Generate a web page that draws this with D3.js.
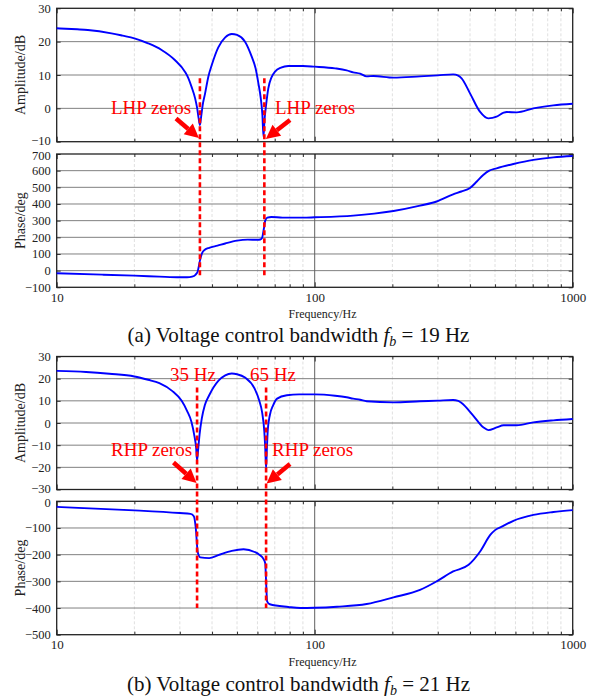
<!DOCTYPE html>
<html>
<head>
<meta charset="utf-8">
<script src="https://cdn.jsdelivr.net/npm/d3@7"></script>
<style>
  html, body { margin: 0; padding: 0; background: #fff; }
  svg { display: block; }
  svg text { font-family: "Liberation Serif", "Times New Roman", "DejaVu Serif", serif; }
</style>
</head>
<body>
<svg id="chart" width="597" height="700" font-family="Liberation Serif, serif"></svg>
<script>
// ---------------- DATA ----------------
const xMajorTicks = [10, 100, 1000];
const xMinorTicks = [20, 30, 40, 50, 60, 70, 80, 90, 200, 300, 400, 500, 600, 700, 800, 900];

const ampTicksA = [-10, 0, 10, 20, 30];
const phaseTicksA = [-100, 0, 100, 200, 300, 400, 500, 600, 700];
const ampTicksB = [-30, -20, -10, 0, 10, 20, 30];
const phaseTicksB = [-500, -400, -300, -200, -100, 0];

// (a) fb = 19 Hz : [frequency Hz, amplitude dB]
const ampA = [
  [10, 24], [12, 23.7], [13.2, 23.5], [16.3, 22.5], [18, 21.8], [20, 21], [22.6, 19.5],
  [25.5, 17.5], [28.7, 14.5], [31.4, 11], [32.4, 9], [33.3, 6.5], [34.4, 3], [35, 0.2],
  [35.5, -3], [35.9, -5], [36.3, -2.5], [36.8, 1], [37.6, 4.5], [38.7, 9.5], [39.9, 13],
  [42.3, 18.3], [45, 21.3], [47.7, 22.3], [50, 22], [53.7, 20], [57, 15.5], [59, 12],
  [60.5, 7.5], [61.8, 3], [62.7, -2], [63.3, -8.5], [63.9, -3.5], [64.8, 1], [66.1, 6],
  [68, 9.3], [70.2, 11], [74, 12.2], [79, 12.7], [90, 12.7], [100, 12.5], [120, 12],
  [133, 11.4], [141, 10.8], [150, 10.4], [159, 9.6], [169, 9.7], [202, 9.2], [256, 9.6],
  [300, 9.9], [344, 10.2], [360, 9.8], [371, 9], [400, 4.5], [437, -1], [471, -3],
  [507, -2.5], [540, -1.3], [555, -1.1], [607, -1.2], [704, 0], [841, 0.9], [1000, 1.4]
];
// (a) [frequency Hz, phase deg]
const phaseA = [
  [10, -16], [15, -24], [20, -30], [25, -36], [30, -40], [32, -40], [33.5, -36],
  [34.5, -25], [35.2, -5], [35.9, 60], [36.6, 105], [37.5, 125], [39, 137], [42, 150],
  [45, 163], [50, 180], [55, 186], [60, 185], [61.5, 187], [62.5, 196], [63.5, 250],
  [64.3, 300], [65.5, 318], [68, 322], [75, 318], [90, 318], [100, 320], [141, 330],
  [170, 342], [202, 358], [256, 390], [297, 415], [344, 458], [370, 475], [400, 496],
  [425, 535], [450, 574], [475, 600], [507, 614], [589, 640], [704, 665], [841, 680],
  [1000, 688]
];

// (b) fb = 21 Hz : [frequency Hz, amplitude dB]
const ampB = [
  [10, 23.5], [13, 23], [16, 22.2], [20, 21], [22.6, 19.5], [25, 18], [28, 14.5],
  [30.5, 10], [32, 5.5], [33.3, 0.5], [34.2, -6], [34.7, -11], [35, -17], [35.4, -11],
  [35.8, -5], [36.5, 2], [37.5, 8], [39, 12.5], [42.3, 19], [45, 21.5], [47.7, 22.3],
  [50, 22], [53.7, 20.5], [58.5, 15.5], [61, 10], [62.5, 5], [63.8, -4], [64.3, -11],
  [64.8, -20.5], [65.3, -11], [65.8, -3], [67, 3.5], [69, 8], [71.5, 11], [78, 12.5],
  [87, 12.9], [100, 12.9], [120, 12.3], [133, 11.6], [141, 11], [150, 10.5], [159, 9.8],
  [202, 9.3], [256, 9.8], [300, 10.1], [344, 10.4], [360, 10], [371, 9], [410, 3.6],
  [450, -1.9], [471, -3.2], [507, -2], [540, -1], [607, -1], [704, 0.3], [841, 1.2],
  [1000, 1.8]
];
// (b) [frequency Hz, phase deg]
const phaseB = [
  [10, -21], [20, -34], [30, -44], [33, -47], [34, -56], [34.6, -100], [35.2, -190],
  [36, -210], [39, -213], [42.3, -202], [47.7, -186], [53, -180], [58.5, -190],
  [61, -200], [63.2, -215], [64.3, -232], [64.8, -300], [65.4, -375], [67, -386],
  [79, -396], [88, -400], [100, -399], [122, -395], [159, -385], [202, -360],
  [256, -332], [297, -300], [344, -263], [395, -238], [437, -189], [480, -125],
  [500, -108], [536, -93], [589, -73], [704, -51], [841, -40], [1000, -33]
];

// zero-marker frequencies and extents [freq, top amplitude dB, bottom phase deg]
const markersA = [[35.9, 9, -40], [63.8, 9, -40]];
const markersB = [[35, 16, -400], [64.8, 16, -400]];

const annotA = ["LHP zeros", "LHP zeros"];
const annotB = ["RHP zeros", "RHP zeros"];
const freqLabelsB = ["35 Hz", "65 Hz"];
const captionA = ["(a) Voltage control bandwidth ", "f", "b", " = 19 Hz"];
const captionB = ["(b) Voltage control bandwidth ", "f", "b", " = 21 Hz"];

// ---------------- LAYOUT ----------------
const FONT = "Liberation Serif, Times New Roman, serif";
const svg = d3.select("#chart");
svg.append("rect").attr("width", 597).attr("height", 700).attr("fill", "#fff");

const X0 = 56.7, X1 = 572.7;
const x = d3.scaleLog().domain([10, 1000]).range([X0, X1]);

const yA1 = d3.scaleLinear().domain([-10, 30]).range([141.7, 8.3]);
const yA2 = d3.scaleLinear().domain([-100, 700]).range([287.3, 154]);
const yB1 = d3.scaleLinear().domain([-30, 30]).range([489.5, 356.5]);
const yB2 = d3.scaleLinear().domain([-500, 0]).range([634.7, 501.3]);

// nudgeBottom / nudgeTop: small vertical shifts of the extreme tick labels where panels abut
function panel(y, ticks, data, label, showX, xLabelY, nudgeBottom, nudgeTop) {
  const g = svg.append("g");
  const [yb, yt] = y.range();
  // minor vertical grid
  g.selectAll(".vmin").data(xMinorTicks).enter().append("line")
    .attr("x1", d => x(d)).attr("x2", d => x(d)).attr("y1", yt).attr("y2", yb)
    .attr("stroke", "#d8d8d8").attr("stroke-width", 0.8).attr("stroke-dasharray", "3,2");
  // horizontal grid
  g.selectAll(".hg").data(ticks.slice(1, -1)).enter().append("line")
    .attr("x1", X0).attr("x2", X1).attr("y1", d => y(d)).attr("y2", d => y(d))
    .attr("stroke", "#808080").attr("stroke-width", 1);
  // major vertical grid
  g.selectAll(".vmaj").data([100]).enter().append("line")
    .attr("x1", d => x(d)).attr("x2", d => x(d)).attr("y1", yt).attr("y2", yb)
    .attr("stroke", "#606060").attr("stroke-width", 1);

  // axes
  const axL = d3.axisLeft(y).tickValues(ticks).tickSize(-4).tickPadding(6).tickFormat(d3.format("d"));
  const axR = d3.axisRight(y).tickValues(ticks).tickSize(-4).tickFormat("");
  const axB = d3.axisBottom(x).tickValues(xMajorTicks).tickSize(-5).tickPadding(5).tickFormat(d3.format("d"));
  const axBm = d3.axisBottom(x).tickValues(xMinorTicks).tickSize(-3).tickFormat("");
  const axT = d3.axisTop(x).tickValues(xMajorTicks).tickSize(-5).tickFormat("");
  const axTm = d3.axisTop(x).tickValues(xMinorTicks).tickSize(-3).tickFormat("");

  const gl = g.append("g").attr("transform", `translate(${X0},0)`).call(axL);
  g.append("g").attr("transform", `translate(${X1},0)`).call(axR);
  const gb = g.append("g").attr("transform", `translate(0,${yb})`).call(axB);
  g.append("g").attr("transform", `translate(0,${yb})`).call(axBm);
  g.append("g").attr("transform", `translate(0,${yt})`).call(axT);
  g.append("g").attr("transform", `translate(0,${yt})`).call(axTm);
  g.selectAll("g").attr("font-family", FONT);
  g.selectAll(".domain").remove();
  g.selectAll(".tick line").attr("stroke", "#333").attr("stroke-width", 1);
  gl.selectAll("text").attr("font-size", 12.5).attr("fill", "#222").attr("font-family", FONT)
    .attr("y", (d, i, n) => (i === 0 ? -(nudgeBottom || 0) : (i === n.length - 1 ? (nudgeTop || 0) : 0)));
  if (showX) {
    gb.selectAll("text").attr("font-size", 13).attr("fill", "#222").attr("font-family", FONT);
    g.append("text").attr("x", 322.5).attr("y", xLabelY).attr("text-anchor", "middle")
      .attr("font-family", FONT).attr("fill", "#222")
      .attr("font-size", 12).text("Frequency/Hz");
  } else {
    gb.selectAll("text").remove();
  }
  // frame
  g.append("rect").attr("x", X0).attr("y", yt).attr("width", X1 - X0).attr("height", yb - yt)
    .attr("fill", "none").attr("stroke", "#222").attr("stroke-width", 1.3);
  // y label
  g.append("text").attr("transform", `translate(22,${(yt + yb) / 2}) rotate(-90)`)
    .attr("text-anchor", "middle").attr("dominant-baseline", "middle")
    .attr("font-family", FONT).attr("fill", "#222")
    .attr("font-size", 14).text(label);
  // curve
  const line = d3.line().x(d => x(d[0])).y(d => y(d[1])).curve(d3.curveMonotoneX);
  g.append("path").datum(data).attr("d", line).attr("fill", "none")
    .attr("stroke", "#0000ff").attr("stroke-width", 1.9);
  return g;
}

panel(yA1, ampTicksA, ampA, "Amplitude/dB", false, 0, 1.5, 0);
panel(yA2, phaseTicksA, phaseA, "Phase/deg", true, 318, 0, 1.5);
panel(yB1, ampTicksB, ampB, "Amplitude/dB", false, 0, 1.5, 0);
panel(yB2, phaseTicksB, phaseB, "Phase/deg", true, 666, 0, 1.5);

// ---------------- ANNOTATIONS ----------------
const red = "#ff0000";
function markers(list, yTop, yBot) {
  svg.append("g").selectAll("line").data(list).enter().append("line")
    .attr("x1", d => x(d[0])).attr("x2", d => x(d[0]))
    .attr("y1", d => yTop(d[1])).attr("y2", d => yBot(d[2]))
    .attr("stroke", red).attr("stroke-width", 2.6).attr("stroke-dasharray", "5,3");
}
markers(markersA, yA1, yA2);
markers(markersB, yB1, yB2);

function arrow(x1, y1, x2, y2) {
  const ang = Math.atan2(y2 - y1, x2 - x1);
  const hl = 14, hw = 7;
  const bx = x2 - hl * Math.cos(ang), by = y2 - hl * Math.sin(ang);
  svg.append("line").attr("x1", x1).attr("y1", y1).attr("x2", bx).attr("y2", by)
    .attr("stroke", red).attr("stroke-width", 4.5);
  const px = -Math.sin(ang) * hw, py = Math.cos(ang) * hw;
  svg.append("path")
    .attr("d", `M${x2},${y2}L${bx + px},${by + py}L${bx - px},${by - py}Z`)
    .attr("fill", red);
}

function redText(t, xx, yy) {
  svg.append("text").attr("x", xx).attr("y", yy).attr("font-size", 19)
    .attr("font-family", FONT).attr("fill", red).text(t);
}

// (a)
redText(annotA[0], 111, 114);
redText(annotA[1], 275, 114);
arrow(176, 118.5, x(markersA[0][0]) - 1, 138);
arrow(290, 120, x(markersA[1][0]) + 1.5, 139);

// (b)
redText(freqLabelsB[0], 170, 381);
redText(freqLabelsB[1], 250, 381);
redText(annotB[0], 111, 456);
redText(annotB[1], 272, 456);
arrow(173.5, 462.5, x(markersB[0][0]) - 0.5, 483);
arrow(290, 464, x(markersB[1][0]) + 0.5, 483.5);

// captions
function caption(parts, yy) {
  const t = svg.append("text").attr("x", 298.5).attr("y", yy).attr("text-anchor", "middle")
    .attr("font-family", FONT).attr("fill", "#111").attr("font-size", 21);
  t.append("tspan").text(parts[0]);
  t.append("tspan").attr("font-style", "italic").text(parts[1]);
  t.append("tspan").attr("font-style", "italic").attr("font-size", 14).attr("dy", 4).text(parts[2]);
  t.append("tspan").attr("dy", -4).text(parts[3]);
}
caption(captionA, 342);
caption(captionB, 691);
</script>
</body>
</html>
